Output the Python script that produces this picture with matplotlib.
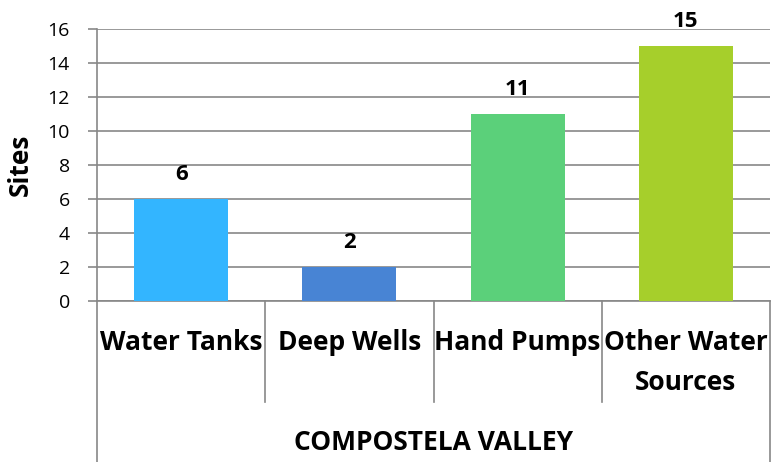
import matplotlib
matplotlib.use("Agg")
import matplotlib.pyplot as plt
from matplotlib.transforms import blended_transform_factory

categories = ["Water Tanks", "Deep Wells", "Hand Pumps", "Other Water\nSources"]
values = [6, 2, 11, 15]
colors = ["#33B5FF", "#4884D4", "#5BD07A", "#A6CF2B"]
group_label = "COMPOSTELA VALLEY"
yticks = [0, 2, 4, 6, 8, 10, 12, 14, 16]

W, H = 773, 462
fig = plt.figure(figsize=(W / 100, H / 100), dpi=100)
ax = fig.add_axes([97 / W, 1 - 301 / H, (770 - 97) / W, (301 - 28.5) / H])
ax_w = 770 - 97
ax_h = 301 - 28.5

grid_c = "#878787"
x = list(range(len(categories)))
bars = ax.bar(x, values, width=0.56, color=colors, zorder=3)
ax.bar_label(bars, labels=[str(v) for v in values], padding=10,
             fontsize=16, fontweight="bold", family="Open Sans")

ax.set_xlim(-0.5, len(categories) - 0.5)
ax.set_ylim(0, 16)
ax.set_yticks(yticks)
ax.set_yticklabels([str(t) for t in yticks], family="Open Sans", fontsize=14)
ax.yaxis.grid(True, color=grid_c, linewidth=1.2, zorder=0)
ax.tick_params(axis="y", length=6.5, color=grid_c, width=1.2, pad=13)
ax.set_xticks([])
for s in ["top", "right"]:
    ax.spines[s].set_visible(False)
for s in ["left", "bottom"]:
    ax.spines[s].set_color(grid_c)
    ax.spines[s].set_linewidth(1.2)

ax.set_ylabel("Sites", family="Open Sans", fontweight="bold", fontsize=19)
ax.yaxis.set_label_coords(-(97 - 34) / ax_w, 0.5)

tr = blended_transform_factory(ax.transData, ax.transAxes)
y_div = -(402 - 301) / ax_h
y_bot = -(462 - 301) / ax_h
# category dividers
for i in range(1, len(categories)):
    ax.plot([i - 0.5, i - 0.5], [0, y_div], transform=tr, color=grid_c,
            linewidth=1.2, clip_on=False)
for xe in [-0.5, len(categories) - 0.5]:
    ax.plot([xe, xe], [0, y_bot], transform=tr, color=grid_c,
            linewidth=1.2, clip_on=False)

line_y = [343, 383]
for i, c in enumerate(categories):
    for j, line in enumerate(c.split("\n")):
        ax.text(i, -(line_y[j] - 301) / ax_h, line, transform=tr, ha="center",
                va="center", fontsize=19, fontweight="bold", family="Open Sans")

ax.text((len(categories) - 1) / 2, -(443 - 301) / ax_h, group_label, transform=tr,
        ha="center", va="center", fontsize=19, fontweight="bold", family="Open Sans")

fig.savefig("out.png", dpi=100)
